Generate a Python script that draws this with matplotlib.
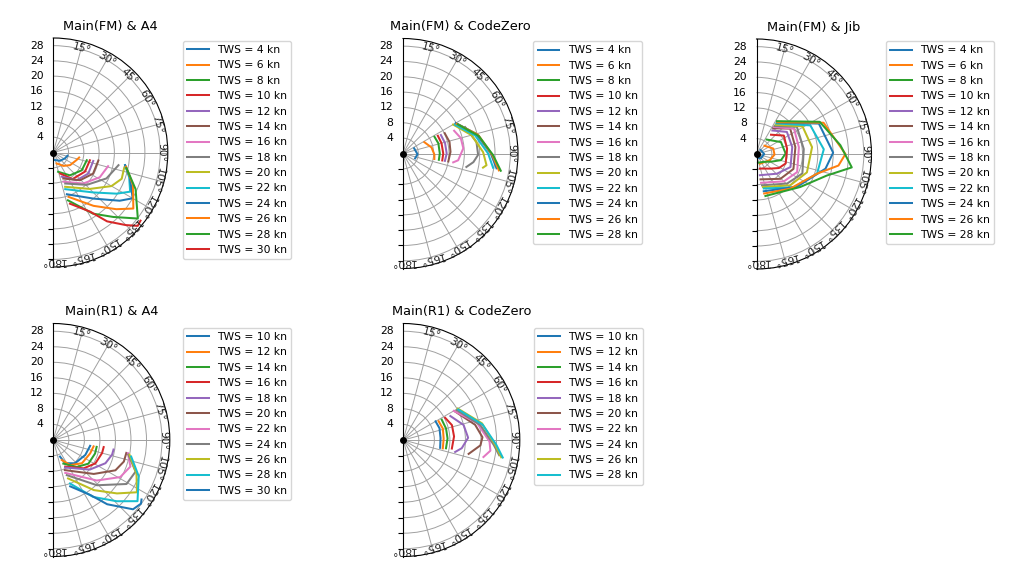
import numpy as np
import matplotlib
matplotlib.use("Agg")
import matplotlib.pyplot as plt

plt.rcParams['font.size'] = 7.75
plt.rcParams['lines.linewidth'] = 1.45

# polaires : TWA (deg) / vitesse bateau (kn) pour chaque TWS
r_ticks = [4, 8, 12, 16, 20, 24, 28]
theta_ticks = list(range(15, 181, 15))
hub_twa = [0]
hub_bsp = [0]

# Main(FM) & A4
fm_a4_tws = [4, 6, 8, 10, 12, 14, 16, 18, 20, 22, 24, 26, 28, 30]
fm_a4_twa = [
    [103, 117, 141, 170],
    [101, 108, 127, 143, 163],
    [103, 122, 144, 166],
    [102, 121, 144, 162],
    [102, 121, 140, 161],
    [100, 118, 136, 159],
    [104, 118, 136, 161],
    [101, 116, 134, 159],
    [102, 111, 120, 135, 161],
    [100, 108, 117, 123, 135, 162],
    [100, 108, 120, 126, 139, 162],
    [101, 112, 125, 132, 143, 161],
    [102, 114, 128, 137, 147, 163],
    [128, 131, 135, 142, 148, 162],
]
fm_a4_bsp = [
    [3.8, 3.4, 2.8, 2.0],
    [6.9, 6.4, 5.5, 4.4, 3.0],
    [9.0, 8.8, 7.4, 5.2],
    [9.8, 9.7, 8.6, 5.8],
    [10.7, 10.7, 9.5, 6.7],
    [12.0, 11.8, 10.1, 7.3],
    [14.8, 13.8, 11.3, 8.1],
    [17.4, 15.5, 12.2, 8.7],
    [19.0, 19.2, 17.6, 13.5, 9.5],
    [19.1, 20.9, 22.6, 19.8, 14.8, 10.1],
    [19.1, 21.1, 24.0, 21.5, 16.0, 11.5],
    [19.4, 22.5, 25.6, 22.2, 17.5, 12.3],
    [19.6, 23.6, 28.1, 23.1, 19.1, 13.1],
    [29.0, 29.3, 26.9, 22.9, 18.3, 14.1],
]

# Main(FM) & CodeZero
fm_c0_tws = [4, 6, 8, 10, 12, 14, 16, 18, 20, 22, 24, 26, 28]
fm_c0_twa = [
    [65, 93, 112],
    [62, 78, 92, 100],
    [62, 74, 90, 100],
    [63, 75, 90, 100],
    [64, 76, 90, 100],
    [64, 76, 88, 100],
    [66, 75, 85, 97, 100],
    [67, 81, 91, 97, 102],
    [60, 75, 89, 98, 100],
    [61, 76, 90, 99],
    [60, 75, 90, 99],
    [61, 76, 91, 100],
    [62, 77, 91, 100],
]
fm_c0_bsp = [
    [3.2, 3.8, 3.4],
    [6.3, 7.6, 8.2, 8.3],
    [9.3, 9.6, 9.6, 9.5],
    [10.2, 10.4, 10.5, 10.4],
    [11.0, 11.3, 11.4, 11.1],
    [12.1, 12.5, 12.4, 12.0],
    [14.6, 15.6, 15.8, 14.5, 13.3],
    [17.6, 19.4, 19.6, 18.5, 16.9],
    [15.1, 18.5, 20.9, 22.0, 21.2],
    [15.5, 19.4, 22.2, 23.8],
    [15.9, 19.8, 22.9, 24.7],
    [16.0, 20.2, 23.3, 25.4],
    [16.2, 20.3, 23.5, 25.9],
]

# Main(FM) & Jib
fm_jib_tws = [4, 6, 8, 10, 12, 14, 16, 18, 20, 22, 24, 26, 28]
fm_jib_twa = [
    [45, 90, 135, 165],
    [44, 72, 92, 115, 161],
    [35, 64, 89, 104, 116, 137, 171],
    [37, 56, 80, 108, 122, 136, 167],
    [34, 54, 79, 111, 134, 171],
    [33, 53, 80, 112, 136, 171],
    [33, 56, 81, 114, 135, 171],
    [33, 56, 84, 113, 134, 170],
    [33, 59, 83, 110, 133, 169],
    [33, 62, 86, 108, 132, 168],
    [33, 64, 89, 102, 129, 169],
    [33, 65, 90, 98, 108, 136, 169],
    [32, 63, 84, 98, 107, 127, 168],
]
fm_jib_bsp = [
    [1.5, 2.0, 1.6, 1.0],
    [3.0, 4.6, 4.7, 3.8, 2.7],
    [4.6, 7.1, 7.6, 6.6, 4.5, 2.8, 2.3],
    [6.3, 8.6, 8.1, 8.0, 6.9, 5.3, 3.9],
    [7.4, 9.8, 9.5, 9.5, 7.4, 5.6],
    [8.0, 11.0, 10.3, 10.4, 9.0, 6.7],
    [8.4, 11.8, 11.2, 11.6, 10.1, 7.6],
    [8.7, 12.7, 12.4, 13.0, 11.1, 8.3],
    [9.1, 14.0, 14.6, 14.0, 12.0, 8.8],
    [9.5, 15.9, 17.6, 16.6, 13.0, 9.2],
    [9.8, 18.1, 20.0, 18.4, 13.6, 9.9],
    [9.9, 19.3, 23.2, 21.6, 16.6, 12.6, 10.5],
    [10.1, 18.5, 22.0, 25.1, 19.2, 14.3, 11.2],
]

# Main(R1) & A4
r1_a4_tws = [10, 12, 14, 16, 18, 20, 22, 24, 26, 28, 30]
r1_a4_twa = [
    [99, 115, 137, 153, 158],
    [99, 110, 129, 146, 157],
    [99, 108, 124, 139, 157],
    [98, 105, 119, 133, 156],
    [99, 104, 114, 129, 157],
    [100, 107, 116, 130, 159],
    [100, 109, 119, 133, 160],
    [101, 111, 121, 136, 159],
    [101, 112, 122, 130, 141, 159],
    [102, 113, 126, 134, 145, 159],
    [124, 126, 131, 140, 146, 160],
]
r1_a4_bsp = [
    [9.6, 9.1, 8.2, 6.7, 4.6],
    [10.5, 10.1, 9.5, 7.8, 5.6],
    [11.3, 11.3, 10.9, 9.2, 6.6],
    [13.1, 13.0, 12.4, 10.7, 7.5],
    [15.7, 15.6, 14.7, 12.1, 7.7],
    [19.1, 19.0, 17.8, 13.6, 8.3],
    [19.5, 21.0, 19.7, 15.3, 9.0],
    [19.7, 22.7, 22.0, 16.2, 9.7],
    [20.0, 23.1, 25.4, 21.4, 16.6, 10.6],
    [20.5, 23.9, 26.8, 22.7, 17.9, 12.0],
    [27.4, 27.9, 27.2, 21.6, 17.1, 12.7],
]

# Main(R1) & CodeZero
r1_c0_tws = [10, 12, 14, 16, 18, 20, 22, 24, 26, 28]
r1_c0_twa = [
    [60, 72, 87, 102],
    [62, 74, 88, 102],
    [62, 75, 88, 101],
    [62, 73, 86, 100],
    [63, 76, 88, 98, 103],
    [61, 78, 88, 94, 102],
    [60, 77, 91, 97, 102],
    [61, 79, 93, 99],
    [60, 78, 93, 100],
    [61, 79, 93, 100],
]
r1_c0_bsp = [
    [9.6, 9.8, 9.6, 9.7],
    [10.3, 10.6, 10.4, 10.4],
    [11.2, 11.4, 11.4, 11.2],
    [12.2, 13.1, 13.1, 12.7],
    [13.6, 16.0, 16.7, 15.2, 13.7],
    [15.2, 18.9, 20.4, 19.9, 17.2],
    [15.0, 19.5, 22.2, 22.6, 21.1],
    [15.8, 20.2, 23.3, 25.0],
    [16.2, 20.7, 23.7, 25.6],
    [16.2, 20.8, 24.0, 26.0],
]

W, H = 1024, 567


def polar_rect(cx, cy, R):
    # le demi-disque est centre dans une boite carree de cote 2R
    return [(cx - R / 2) / W, 1 - (cy + R) / H, 2 * R / W, 2 * R / H]


def draw_polar(fig, rect, title, tws, twa, bsp, leg_px):
    ax = fig.add_axes(rect, projection='polar')
    ax.set_theta_zero_location('N')
    ax.set_theta_direction(-1)
    ax.set_thetamin(0)
    ax.set_thetamax(180)
    ax.set_rlim(0, 30)
    ax.set_yticks(r_ticks)
    ax.set_xticks(np.deg2rad(theta_ticks))
    ax.set_xticklabels([])
    for t in theta_ticks:
        ax.text(np.deg2rad(t), 28.3, '%d°' % t, rotation=-t, ha='center', va='center',
                rotation_mode='anchor', color='#222222')
    ax.tick_params(axis='x', direction='inout', length=7)
    ax.tick_params(axis='y', right=True)
    ax.grid(True, color='#a0a0a0', lw=0.7)
    for s, a, b in zip(tws, twa, bsp):
        ax.plot(np.deg2rad(a), b, label='TWS = %d kn' % s)
    ax.plot(np.deg2rad(hub_twa), hub_bsp, 'o', color='k', ms=4, clip_on=False)
    ax.set_title(title)
    ax.legend(loc='upper left', bbox_to_anchor=(leg_px[0] / W, 1 - leg_px[1] / H),
              bbox_transform=fig.transFigure, borderaxespad=0)
    return ax


fig = plt.figure(figsize=(W / 100, H / 100), dpi=100)
draw_polar(fig, polar_rect(53.3, 152.5, 114.5), 'Main(FM) & A4', fm_a4_tws, fm_a4_twa, fm_a4_bsp, (182.7, 40.7))
draw_polar(fig, polar_rect(403, 153.5, 115), 'Main(FM) & CodeZero', fm_c0_tws, fm_c0_twa, fm_c0_bsp, (533.3, 41))
draw_polar(fig, polar_rect(756.5, 154, 115), 'Main(FM) & Jib', fm_jib_tws, fm_jib_twa, fm_jib_bsp, (885.7, 41))
draw_polar(fig, polar_rect(53.3, 440, 116.5), 'Main(R1) & A4', r1_a4_tws, r1_a4_twa, r1_a4_bsp, (182.7, 327.7))
draw_polar(fig, polar_rect(403.3, 440, 116.5), 'Main(R1) & CodeZero', r1_c0_tws, r1_c0_twa, r1_c0_bsp, (534, 327.7))

fig.savefig('out.png', dpi=100)
